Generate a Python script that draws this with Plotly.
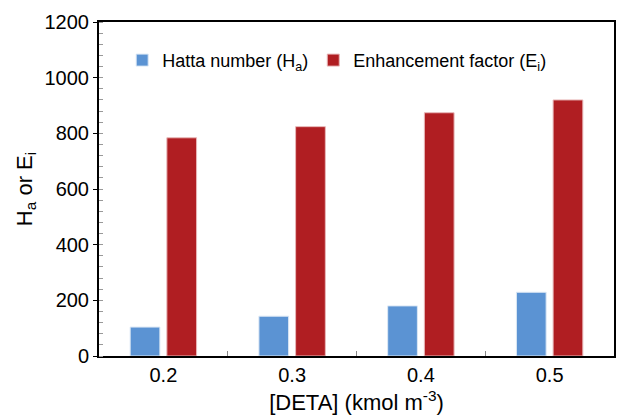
import plotly.graph_objects as go

categories = ["0.2", "0.3", "0.4", "0.5"]
hatta = [104, 143, 180, 229]
enhancement = [784, 824, 874, 920]
y_ticks = [0, 200, 400, 600, 800, 1000, 1200]

FONT = "Liberation Sans, Arial, sans-serif"

fig = go.Figure()
fig.add_trace(go.Bar(x=categories, y=hatta, name="Hatta number (H<sub>a</sub>)",
                     marker=dict(color="#5B93D3", line=dict(color="#DCE8F5", width=1))))
fig.add_trace(go.Bar(x=categories, y=enhancement, name="Enhancement factor (E<sub>i</sub>)",
                     marker=dict(color="#B01E22", line=dict(color="#E8B8B9", width=1))))

fig.update_layout(
    width=618, height=420,
    margin=dict(l=99, r=2, t=22, b=64),
    paper_bgcolor="white", plot_bgcolor="white",
    font=dict(family=FONT, color="black", size=20),
    barmode="group", bargap=0.43, bargroupgap=0.19,
    legend=dict(orientation="h", x=0.045, y=0.885, xanchor="left", yanchor="middle",
                font=dict(size=18), bgcolor="rgba(0,0,0,0)", itemwidth=30, tracegroupgap=0),
    xaxis=dict(
        type="category", showline=True, linecolor="black", linewidth=2, mirror=True,
        ticks="inside", tickson="boundaries", ticklen=5, tickcolor="#888888", tickwidth=1,
        showgrid=False, tickfont=dict(size=20),
        title=dict(text="[DETA] (kmol m<sup>-3</sup>)", font=dict(size=22), standoff=10),
    ),
    yaxis=dict(
        range=[0, 1200], tickvals=y_ticks, showline=True, linecolor="black", linewidth=2,
        mirror=True, ticks="outside", ticklen=4, tickcolor="black", tickwidth=1,
        showgrid=False, zeroline=False, tickfont=dict(size=20),
        minor=dict(dtick=40, ticks="inside", ticklen=4, tickcolor="#999999", tickwidth=1, showgrid=False),
        title=dict(text="H<sub>a</sub> or E<sub>i</sub>", font=dict(size=22), standoff=6),
    ),
)

fig.write_html("out.html")
